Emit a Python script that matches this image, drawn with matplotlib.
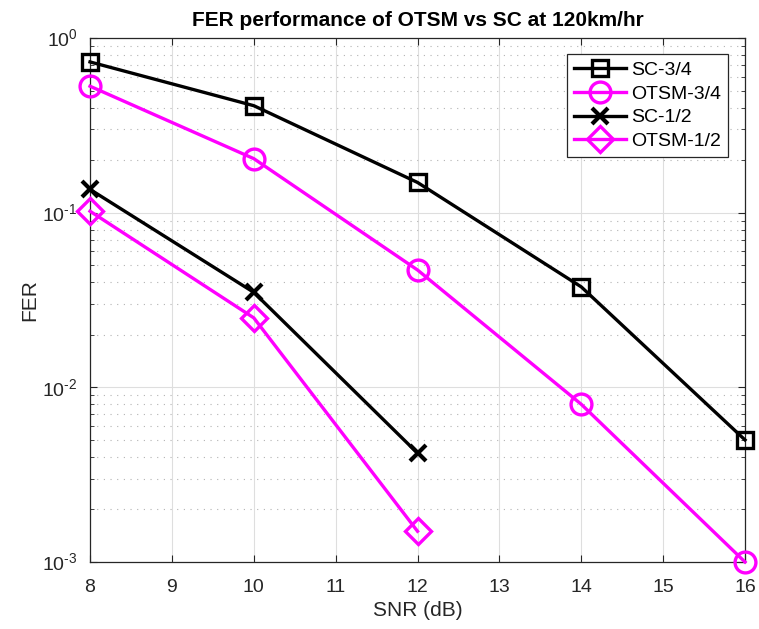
import numpy as np
import matplotlib
matplotlib.use('Agg')
import matplotlib.pyplot as plt
from matplotlib.ticker import LogLocator, NullFormatter, FuncFormatter

plt.rcParams['font.family'] = ['Liberation Sans', 'DejaVu Sans']
plt.rcParams['mathtext.fontset'] = 'custom'
plt.rcParams['mathtext.rm'] = 'Liberation Sans'

# data
snr_34 = [8, 10, 12, 14, 16]
sc_34 = [0.73, 0.41, 0.149, 0.0376, 0.005]
otsm_34 = [0.53, 0.204, 0.047, 0.008, 0.001]

snr_12 = [8, 10, 12]
sc_12 = [0.136, 0.035, 0.0042]
otsm_12 = [0.102, 0.025, 0.0015]

dark = (0.15, 0.15, 0.15)
magenta = '#ff00ff'

fig = plt.figure(figsize=(7.59, 6.29), dpi=100)
ax = fig.add_axes([0.1186, 0.1065, 0.863, 0.833])

lw = 2.4
mew = 2.4
ax.semilogy(snr_34, sc_34, '-s', color='k', lw=lw, ms=12, mew=mew, mfc='none', label='SC-3/4', clip_on=False, zorder=5)
ax.semilogy(snr_34, otsm_34, '-o', color=magenta, lw=lw, ms=15, mew=mew, mfc='none', label='OTSM-3/4', clip_on=False, zorder=4)
ax.semilogy(snr_12, sc_12, '-x', color='k', lw=lw, ms=12, mew=mew + 0.6, label='SC-1/2', clip_on=False, zorder=5)
ax.semilogy(snr_12, otsm_12, '-D', color=magenta, lw=lw, ms=13, mew=mew, mfc='none', label='OTSM-1/2', clip_on=False, zorder=4)

ax.set_xlim(8, 16)
ax.set_ylim(1e-3, 1)
ax.set_xticks(range(8, 17))
ax.yaxis.set_major_locator(LogLocator(base=10, numticks=10))
ax.yaxis.set_major_formatter(FuncFormatter(lambda v, p: r'$10^{\text{-}%d}$' % round(-np.log10(v)) if v < 0.99 else r'$10^{0}$'))
ax.yaxis.set_minor_locator(LogLocator(base=10, subs=np.arange(2, 10), numticks=10))
ax.yaxis.set_minor_formatter(NullFormatter())

ax.grid(True, which='major', color=(0.87, 0.87, 0.87), lw=0.8)
ax.grid(True, which='minor', axis='y', color=(0.7, 0.7, 0.7), lw=0.8, linestyle=(0, (1, 5)))
ax.set_axisbelow(True)

ax.tick_params(which='both', direction='in', top=True, right=True, colors=dark, labelsize=14)
ax.tick_params(axis='x', which='major', length=5, pad=12)
ax.tick_params(axis='y', which='major', length=5, pad=9)
ax.tick_params(which='minor', length=3)
for s in ax.spines.values():
    s.set_color(dark)
    s.set_linewidth(0.9)

ax.set_xlabel('SNR (dB)', fontsize=15, color=dark, labelpad=4)
ax.set_ylabel('FER', fontsize=15, color=dark, labelpad=2)
ax.set_title('FER performance of OTSM vs SC at 120km/hr', fontsize=15, fontweight='bold', pad=9)

leg = ax.legend(loc='upper right', fontsize=14, fancybox=False, framealpha=1,
                edgecolor=dark, handlelength=2.7, borderpad=0.35, labelspacing=0.32,
                handletextpad=0.25, borderaxespad=0, bbox_to_anchor=(0.974, 0.969))
leg.get_frame().set_linewidth(0.9)

fig.savefig('out.png', dpi=100)
